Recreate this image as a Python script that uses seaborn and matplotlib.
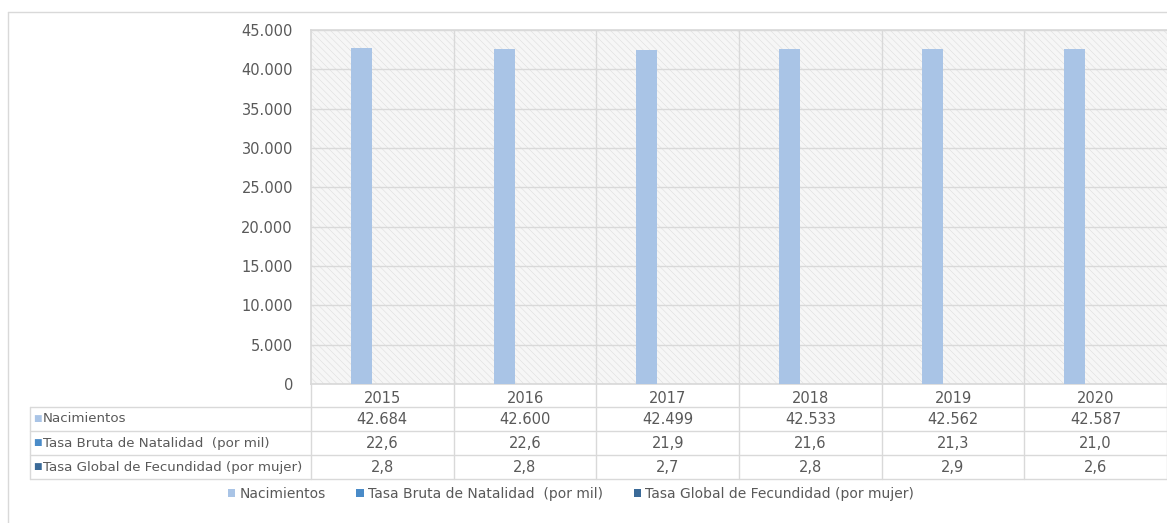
import numpy as np
import pandas as pd
import matplotlib
matplotlib.use("Agg")
import matplotlib.pyplot as plt
import seaborn as sns
from matplotlib.lines import Line2D
from matplotlib.patches import Rectangle, Patch
from matplotlib.ticker import FuncFormatter
import matplotlib.transforms as mtransforms

# data
years = ["2015", "2016", "2017", "2018", "2019", "2020"]
nacimientos = [42684, 42600, 42499, 42533, 42562, 42587]
tasa_bruta = [22.6, 22.6, 21.9, 21.6, 21.3, 21.0]
tasa_global = [2.8, 2.8, 2.7, 2.8, 2.9, 2.6]
series_names = ["Nacimientos",
                "Tasa Bruta de Natalidad  (por mil)",
                "Tasa Global de Fecundidad (por mujer)"]
colors = ["#A9C4E6", "#4A8BC8", "#3B6A98"]

text_color = "#595959"
line_color = "#d9d9d9"

sns.set_theme(style="white")
plt.rcParams['font.family'] = ['DejaVu Sans']
plt.rcParams['hatch.linewidth'] = 0.4

df = pd.DataFrame({
    "year": years * 3,
    "serie": [series_names[0]] * 6 + [series_names[1]] * 6 + [series_names[2]] * 6,
    "valor": nacimientos + tasa_bruta + tasa_global,
})

W, H = 1167, 523
fig = plt.figure(figsize=(W / 100, H / 100), dpi=100)
ax = fig.add_axes([311 / W, 1 - 384 / H, (W - 311) / W, (384 - 30) / H])

# hatched plot background
ax.set_facecolor("#f6f6f6")
ax.add_patch(Rectangle((0, 0), 1, 1, transform=ax.transAxes, facecolor="none",
                       edgecolor="#dedede", hatch="\\\\\\\\\\", lw=0, zorder=0))

sns.barplot(data=df, x="year", y="valor", hue="serie", palette=colors,
            width=0.44, gap=0, ax=ax, legend=False, zorder=3,
            saturation=1, linewidth=0)

ax.set_ylim(0, 45000)
ax.set_xlim(-0.5, len(years) - 0.5)
ax.set_yticks(np.arange(0, 45001, 5000))
ax.yaxis.set_major_formatter(FuncFormatter(lambda v, p: f"{int(v):,}".replace(",", ".")))
ax.tick_params(axis="y", length=0, pad=13, labelsize=10.5, labelcolor=text_color)
ax.tick_params(axis="x", length=0, pad=5, labelsize=10.5, labelcolor=text_color)
ax.set_xlabel("")
ax.set_ylabel("")
ax.yaxis.grid(True, color=line_color, lw=1)
ax.set_axisbelow(True)
for b in np.arange(0.5, len(years) - 0.5, 1):
    ax.axvline(b, color=line_color, lw=1, zorder=1)
for s in ["top", "left", "bottom"]:
    ax.spines[s].set_color(line_color)
    ax.spines[s].set_visible(True)
ax.spines["right"].set_visible(False)

# data table under the chart
tr = mtransforms.blended_transform_factory(ax.transData, fig.transFigure)
fy = lambda px: 1 - px / H
row_lines = [407, 431, 455, 479]
row_centers = [419, 443, 467]
table_left = 30 / W

for y in row_lines:
    fig.add_artist(Line2D([table_left, 1], [fy(y), fy(y)], color=line_color, lw=1))
fig.add_artist(Line2D([table_left, table_left], [fy(407), fy(479)], color=line_color, lw=1))
for b in np.arange(-0.5, len(years), 1):
    fig.add_artist(Line2D([b, b], [fy(384), fy(479)], color=line_color, lw=1, transform=tr))

rows = [
    [f"{v:,}".replace(",", ".") for v in nacimientos],
    [f"{v:.1f}".replace(".", ",") for v in tasa_bruta],
    [f"{v:.1f}".replace(".", ",") for v in tasa_global],
]
for name, col, vals, yc in zip(series_names, colors, rows, row_centers):
    fig.text(33 / W, fy(yc), "■", color=col, fontsize=6.5, va="center", ha="left")
    fig.text(43 / W, fy(yc), name, color=text_color, fontsize=9.6, va="center", ha="left")
    for i, v in enumerate(vals):
        fig.text(i, fy(yc), v, color=text_color, fontsize=10.5, va="center",
                 ha="center", transform=tr)

# legend
handles = [Patch(facecolor=c, edgecolor="none") for c in colors]
fig.legend(handles, series_names, loc="center", bbox_to_anchor=(571 / W, fy(494)),
           ncol=3, frameon=False, fontsize=10, labelcolor=text_color,
           handlelength=0.55, handleheight=0.55, handletextpad=0.3, columnspacing=2.2)

# outer chart border
fig.add_artist(Line2D([8 / W, 8 / W], [0, fy(12)], color=line_color, lw=1))
fig.add_artist(Line2D([8 / W, 1], [fy(12), fy(12)], color=line_color, lw=1))

fig.savefig("out.png", dpi=100)
